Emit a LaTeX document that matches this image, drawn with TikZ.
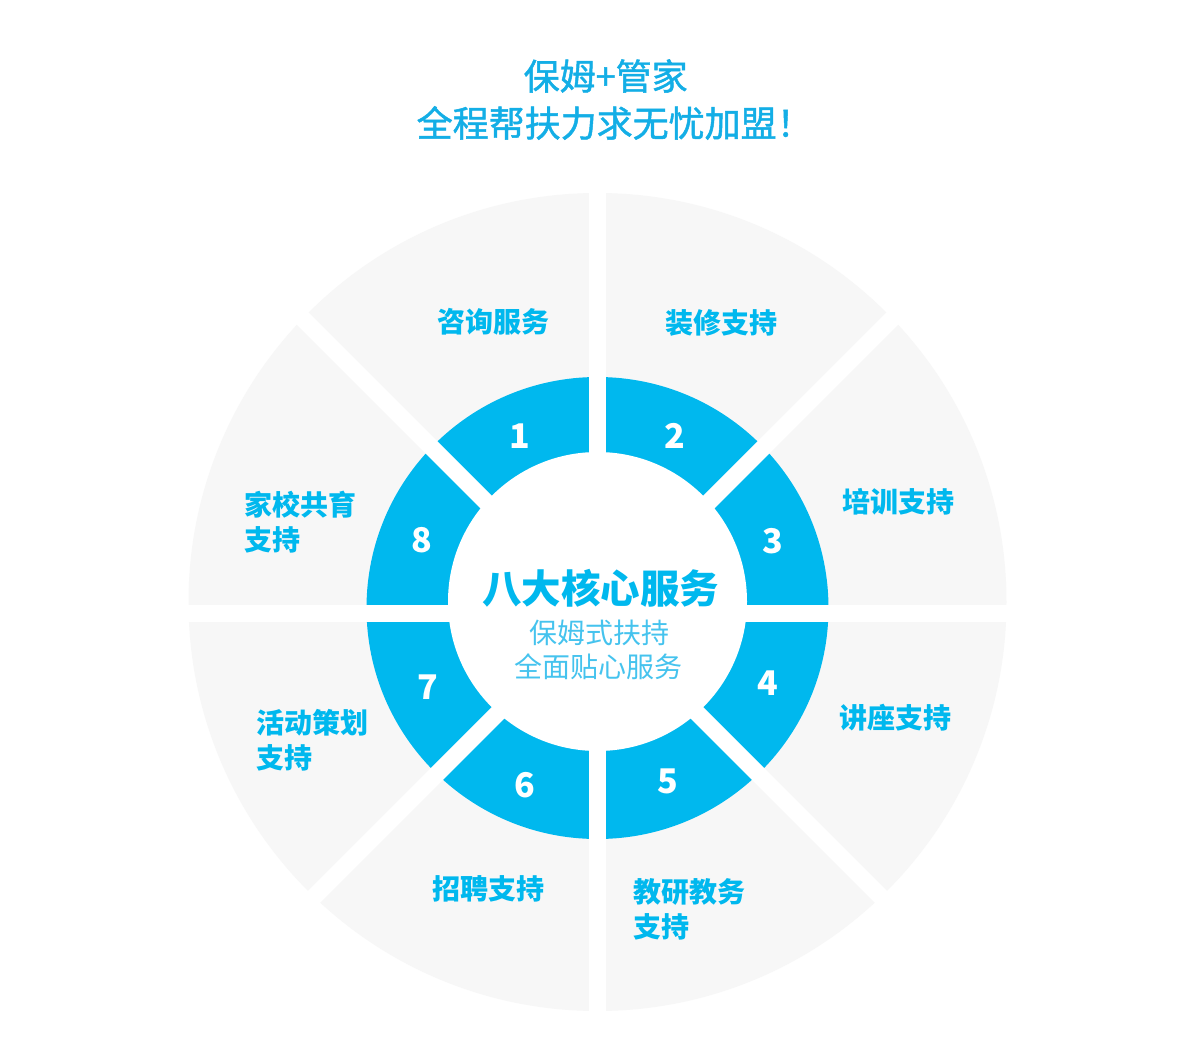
\documentclass[tikz,border=0pt]{standalone}
\usepackage{fontspec}
\usetikzlibrary{calc}
\newfontfamily\cjk{Noto Sans CJK SC}
\newfontfamily\cjkmed[FakeBold=1.3]{Noto Sans CJK SC}
\definecolor{brand}{HTML}{00B8EE}
\definecolor{titlec}{HTML}{13AEE6}
\definecolor{panel}{HTML}{F7F7F7}
\definecolor{subc}{HTML}{45C3EE}
\begin{document}
\begin{tikzpicture}[x=1pt,y=-1pt,
  titletext/.style={font=\cjkmed\fontsize{36}{40}\selectfont, text=titlec, inner sep=0pt},
  lbl/.style={font=\cjk\bfseries\fontsize{28}{35}\selectfont, text=brand, inner sep=0pt, align=left},
  num/.style={font=\cjk\bfseries\fontsize{34}{40}\selectfont, text=white, inner sep=0pt},
  coretitle/.style={font=\cjk\bfseries\fontsize{39.5}{42}\selectfont, text=brand, inner sep=0pt},
  coresub/.style={font=\cjk\fontsize{28}{34}\selectfont, text=subc, inner sep=0pt},
  gapstrip/.style={draw=white, line width=17pt}
]
\useasboundingbox (0,0) rectangle (1195,1045);
\fill[white] (0,0) rectangle (1195,1045);

% title
\node[titletext, anchor=west] (t1) at (523.5,76) {保姆+管家};
\node[titletext, anchor=west] (t2) at (416.5,123) {全程帮扶力求无忧加盟！};

% rings
\fill[panel] (597.5,602) circle (409);
\fill[brand] (597.5,608) circle (231);
\fill[white] (597.5,601.5) circle (149.5);

% gaps
\coordinate (G) at (597.5,613.3);
\foreach \a in {0,45,90,135}{
  \draw[gapstrip] ($(G)+(\a:430)$) -- ($(G)+(\a+180:430)$);
}

% numbers
\node[num] (n1) at (520,436) {1};
\node[num] (n2) at (674.7,436) {2};
\node[num] (n3) at (772.5,541) {3};
\node[num] (n4) at (768.3,683.3) {4};
\node[num] (n5) at (667.5,781.7) {5};
\node[num] (n6) at (524.5,785) {6};
\node[num] (n7) at (427.5,687) {7};
\node[num] (n8) at (422,540) {8};

% labels
\node[lbl] (l1) at (493,321.5) {咨询服务};
\node[lbl] (l2) at (721.5,323.3) {装修支持};
\node[lbl] (l3) at (898,501.7) {培训支持};
\node[lbl] (l4) at (895,717.3) {讲座支持};
\node[lbl, anchor=west] (l5) at (633,909) {教研教务\\支持};
\node[lbl] (l6) at (488.8,889.3) {招聘支持};
\node[lbl, anchor=west] (l7) at (256,739.8) {活动策划\\支持};
\node[lbl, anchor=west] (l8) at (244.5,522.2) {家校共育\\支持};

% centre
\node[coretitle] (c0) at (600.8,588) {八大核心服务};
\node[coresub] (c1) at (599,632.5) {保姆式扶持};
\node[coresub] (c2) at (598.7,666.7) {全面贴心服务};
\end{tikzpicture}
\end{document}
